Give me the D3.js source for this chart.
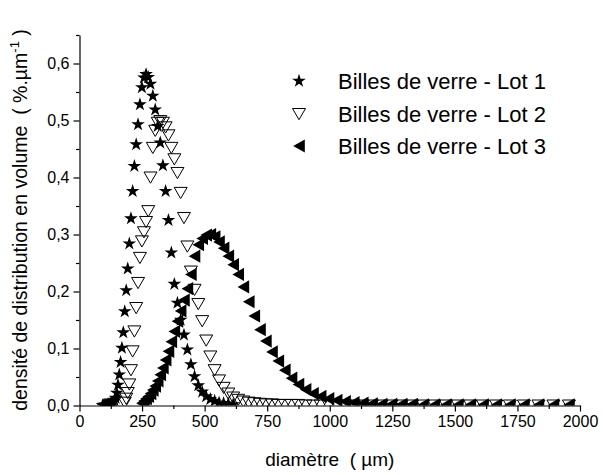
<!DOCTYPE html>
<html><head><meta charset="utf-8">
<script src="https://cdn.jsdelivr.net/npm/d3@7"></script>
<style>
body{margin:0;background:#fff}
svg{display:block}
text{font-family:Arial,"Liberation Sans",sans-serif;fill:#000}
</style>
</head><body><svg id="c" width="603" height="475"></svg>
<script>
// ---- data ----
const diameters = [92.0,95.0,98.1,101.3,104.6,108.1,111.6,115.2,119.0,122.9,126.9,131.1,135.4,139.8,144.4,149.1,153.9,159.0,164.2,169.5,
175.1,180.8,186.7,192.8,199.1,205.6,212.4,219.3,226.5,233.9,241.5,249.4,257.6,266.0,274.7,283.7,293.0,302.6,312.5,322.7,
333.2,344.1,355.4,367.0,379.0,391.4,404.2,417.4,431.1,445.1,459.7,474.7,490.3,506.3,522.8,539.9,557.6,575.8,594.7,614.1,
634.2,654.9,676.3,698.5,721.3,744.9,769.3,794.4,820.4,847.2,874.9,903.5,933.1,963.6,995.1,1027.6,1061.2,1095.9,1131.8,1168.8,
1207.0,1246.5,1287.2,1329.3,1372.8,1417.7,1464.0,1511.9,1561.4,1612.4,1665.1,1719.6,1775.8,1833.9,1893.9,1955.8];

const lot1 = [0.000,0.000,0.001,0.001,0.001,0.001,0.002,0.002,0.002,0.003,0.004,0.005,0.006,0.009,0.013,0.022,0.036,0.054,0.076,0.101,
0.128,0.165,0.202,0.240,0.284,0.328,0.376,0.420,0.458,0.493,0.528,0.558,0.575,0.581,0.576,0.564,0.543,0.519,0.490,0.461,
0.421,0.376,0.325,0.268,0.213,0.180,0.150,0.124,0.098,0.072,0.051,0.035,0.024,0.016,0.011,0.008,0.005,0.004,0.003,0.002,
null,null,null,null,null,null,null,null,null,null,null,null,null,null,null,null,null,null,null,null,
null,null,null,null,null,null,null,null,null,null,null,null,null,null,null,null];

const lot2 = [null,null,null,null,null,null,null,null,null,null,null,null,null,null,null,null,null,null,null,null,
null,0.005,0.012,0.022,0.037,0.062,0.095,0.130,0.171,0.215,0.259,0.288,0.304,0.322,0.341,0.400,0.452,0.482,0.496,0.499,
0.496,0.488,0.474,0.452,0.432,0.408,0.373,0.329,0.279,0.235,0.203,0.178,0.148,0.114,0.086,0.062,0.044,0.031,0.021,0.014,
0.010,0.007,0.005,0.004,0.003,0.002,0.002,0.001,0.001,0.001,0.001,0,0,0,0,0,0,0,0,0,
0,0,0,0,0,0,0,0,0,0,0,0,0,0,0,0];

const lot3 = [null,null,null,null,null,null,null,null,null,null,null,null,null,null,null,null,null,null,null,null,
null,null,null,null,null,null,null,null,null,null,null,0.004,0.008,0.012,0.016,0.021,0.027,0.034,0.043,0.054,
0.066,0.080,0.095,0.112,0.130,0.148,0.166,0.185,0.205,0.230,0.262,0.282,0.293,0.299,0.300,0.296,0.287,0.276,0.262,0.247,
0.230,0.208,0.182,0.157,0.133,0.113,0.094,0.078,0.062,0.048,0.037,0.028,0.021,0.016,0.012,0.009,0.007,0.005,0.004,0.003,
0.002,0.002,0.002,0.002,0.001,0.001,0.001,0.001,0.001,0.001,0.001,0.001,0.001,0.001,0.001,0.001];

const seriesNames = ["Billes de verre - Lot 1","Billes de verre - Lot 2","Billes de verre - Lot 3"];
const xTicks = [0,250,500,750,1000,1250,1500,1750,2000];
const xMinorTicks = [125,375,625,875,1125,1375,1625,1875];
const yTicks = [0,0.1,0.2,0.3,0.4,0.5,0.6];
const yMinorTicks = [0.05,0.15,0.25,0.35,0.45,0.55,0.65];
const xTitle = "diamètre  ( µm)";
const yTitle = "densité de distribution en volume  ( %.µm";
const yTitleSup = "-1";
const yTitleEnd = " )";

// ---- chart ----
const svg = d3.select("#c");
const x = d3.scaleLinear().domain([0,2000]).range([79.5,580]);
const y = d3.scaleLinear().domain([0,0.65]).range([405.5,35]);

svg.append("defs").append("clipPath").attr("id","plotclip")
  .append("rect").attr("x",x(0)).attr("y",20).attr("width",x(2000)-x(0)+10).attr("height",y(0)-20);

// marker shapes
const starPath = d3.symbol().type(d3.symbolStar).size(58)();
const downTri = "M-6.5,-5.5L6.5,-5.5L0,5.7Z";
const leftTri = "M-5.8,0L5.8,-6.6L5.8,6.6Z";

const series = [
  {vals: lot1, path: starPath, fill:"#000", stroke:"none"},
  {vals: lot2, path: downTri, fill:"none", stroke:"#000"},
  {vals: lot3, path: leftTri, fill:"#000", stroke:"none"}
];

const plot = svg.append("g").attr("clip-path","url(#plotclip)");
series.forEach(s => {
  const pts = diameters.map((d,i)=>({d, v:s.vals[i]})).filter(p=>p.v!==null);
  plot.append("g").selectAll("path").data(pts).join("path")
    .attr("d", s.path)
    .attr("transform", p=>`translate(${x(p.d)},${y(p.v)})`)
    .attr("fill", s.fill).attr("stroke", s.stroke).attr("stroke-width",1);
});

// axes
const fmtY = v => d3.format(".1f")(v).replace(".",",");
const gx = svg.append("g").attr("transform",`translate(0,${y(0)})`)
  .call(d3.axisBottom(x).tickValues(xTicks).tickSize(6).tickSizeOuter(0).tickPadding(4).tickFormat(d3.format("d")));
const gxm = svg.append("g").attr("transform",`translate(0,${y(0)})`)
  .call(d3.axisBottom(x).tickValues(xMinorTicks).tickSize(3.5).tickFormat(""));
gxm.select(".domain").remove();
const gy = svg.append("g").attr("transform",`translate(${x(0)},0)`)
  .call(d3.axisLeft(y).tickValues(yTicks).tickSize(6).tickSizeOuter(0).tickPadding(4).tickFormat(fmtY));
const gym = svg.append("g").attr("transform",`translate(${x(0)},0)`)
  .call(d3.axisLeft(y).tickValues(yMinorTicks).tickSize(3.5).tickFormat(""));
gym.select(".domain").remove();

[gx,gy,gxm,gym].forEach(g=>{
  g.selectAll("path,line").attr("stroke","#000").attr("stroke-width",1.2);
  g.selectAll("text").attr("font-family","Arial, 'Liberation Sans', sans-serif").attr("font-size",16).attr("fill","#000");
});

// axis titles
svg.append("text").attr("x",(x(0)+x(2000))/2).attr("y",466).attr("text-anchor","middle")
  .attr("font-size",19).style("white-space","pre").text(xTitle);

const yt = svg.append("text").attr("transform","translate(27,220) rotate(-90)")
  .attr("text-anchor","middle").attr("font-size",19.5).style("white-space","pre");
yt.append("tspan").text(yTitle);
yt.append("tspan").attr("font-size",13).attr("dy",-8).text(yTitleSup);
yt.append("tspan").attr("dy",8).text(yTitleEnd);

// legend
const legY = [81,114,146];
series.forEach((s,i)=>{
  svg.append("path").attr("d", s.path)
    .attr("transform",`translate(299,${legY[i]})`)
    .attr("fill",s.fill).attr("stroke",s.stroke).attr("stroke-width",1);
  svg.append("text").attr("x",338).attr("y",legY[i]+7.5).attr("font-size",22).text(seriesNames[i]);
});
</script>
</body></html>
